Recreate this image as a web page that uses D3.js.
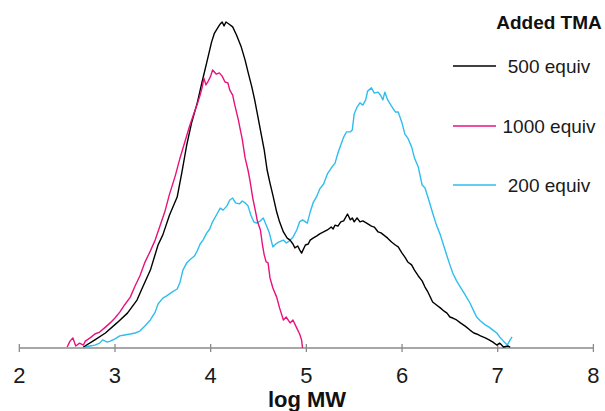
<!DOCTYPE html>
<html><head><meta charset="utf-8">
<script src="https://cdn.jsdelivr.net/npm/d3@7"></script>
<style>html,body{margin:0;padding:0;background:#fff;}svg{display:block;}</style>
</head><body>
<script>
// log MW vs normalized detector response (black peak = 100)
const series500 = [[2.67,0.3],[2.79,2.5],[2.90,4.6],[3.02,7.7],[3.13,10.7],[3.23,14.7],[3.29,18.7],[3.37,23.9],[3.45,31.6],[3.50,34.7],[3.57,40.8],[3.65,46.3],[3.70,54.0],[3.75,62.3],[3.80,69.0],[3.86,75.2],[3.91,81.6],[3.96,87.7],[4.01,93.9],[4.04,96.6],[4.08,98.5],[4.10,99.4],[4.12,100],[4.14,98.8],[4.16,100],[4.19,99.4],[4.23,98.5],[4.27,96.0],[4.32,92.3],[4.36,88.3],[4.39,84.7],[4.43,80.1],[4.46,76.1],[4.49,71.5],[4.53,65.3],[4.56,60.7],[4.59,54.6],[4.62,50.6],[4.65,46.9],[4.69,41.7],[4.72,38.7],[4.76,35.6],[4.80,33.7],[4.83,33.1],[4.86,31.9],[4.88,30.7],[4.91,31.3],[4.93,30.1],[4.95,29.1],[4.99,31.6],[5.02,31.9],[5.04,33.1],[5.07,33.7],[5.11,34.4],[5.14,35.0],[5.18,35.6],[5.22,36.2],[5.26,37.1],[5.28,36.5],[5.30,37.7],[5.33,37.4],[5.36,38.7],[5.39,39.0],[5.43,41.1],[5.46,39.3],[5.48,39.9],[5.50,38.7],[5.53,39.9],[5.56,38.7],[5.59,39.0],[5.63,38.3],[5.68,37.4],[5.71,37.1],[5.75,35.6],[5.78,35.3],[5.82,34.4],[5.85,33.7],[5.89,32.5],[5.93,31.6],[5.96,31.0],[6.00,29.1],[6.03,27.9],[6.06,26.4],[6.10,25.5],[6.13,23.9],[6.17,22.1],[6.21,20.6],[6.24,18.7],[6.27,17.2],[6.32,14.1],[6.36,13.2],[6.40,12.3],[6.44,11.3],[6.47,10.7],[6.50,9.5],[6.53,9.2],[6.57,8.6],[6.61,7.7],[6.66,6.7],[6.71,5.5],[6.75,4.6],[6.78,4.3],[6.82,3.7],[6.87,3.1],[6.91,2.5],[6.95,1.8],[6.99,0.9],[7.02,1.5],[7.06,0.3],[7.11,0.6],[7.13,0.3]];

const series1000 = [[2.50,0.3],[2.53,2.1],[2.56,3.1],[2.59,0.6],[2.63,1.5],[2.67,0.9],[2.69,2.1],[2.74,3.1],[2.79,4.3],[2.84,4.9],[2.90,6.4],[2.95,7.7],[3.00,9.2],[3.05,11.0],[3.10,13.2],[3.16,15.6],[3.21,19.0],[3.26,22.1],[3.31,26.1],[3.37,29.8],[3.42,33.1],[3.47,37.4],[3.52,41.7],[3.57,47.2],[3.63,52.8],[3.68,58.3],[3.73,63.2],[3.78,68.1],[3.83,72.4],[3.86,74.8],[3.89,77.6],[3.91,79.8],[3.93,82.8],[3.95,80.7],[3.97,81.6],[4.00,83.4],[4.02,85.3],[4.06,84.0],[4.09,84.4],[4.12,83.4],[4.15,81.6],[4.18,81.3],[4.20,79.1],[4.23,77.6],[4.25,74.8],[4.29,69.9],[4.31,66.9],[4.33,64.1],[4.36,58.3],[4.39,54.6],[4.41,51.5],[4.44,46.0],[4.47,41.7],[4.49,38.7],[4.52,36.2],[4.54,31.9],[4.56,28.5],[4.58,26.4],[4.60,26.1],[4.62,21.5],[4.65,18.4],[4.69,15.6],[4.72,12.3],[4.76,8.6],[4.79,9.5],[4.83,7.7],[4.86,8.6],[4.90,6.1],[4.93,4.3],[4.95,2.5],[4.96,0]];

const series200 = [[2.69,0.3],[2.74,0.6],[2.79,0.9],[2.84,1.5],[2.87,2.5],[2.92,1.8],[2.95,2.1],[3.00,2.8],[3.05,3.7],[3.10,4.0],[3.16,4.3],[3.21,4.6],[3.26,5.2],[3.31,6.7],[3.37,8.6],[3.42,11.0],[3.45,13.5],[3.50,15.3],[3.54,16.0],[3.60,17.2],[3.65,18.1],[3.68,20.2],[3.71,23.9],[3.75,26.1],[3.78,27.0],[3.83,28.2],[3.86,29.8],[3.89,31.9],[3.92,33.1],[3.96,35.3],[3.99,36.5],[4.02,38.7],[4.06,40.8],[4.10,42.9],[4.13,42.3],[4.17,43.6],[4.20,45.4],[4.23,46.0],[4.26,44.5],[4.30,44.2],[4.33,45.1],[4.36,44.5],[4.39,43.6],[4.42,40.8],[4.45,38.7],[4.48,38.3],[4.52,39.0],[4.55,39.9],[4.58,37.7],[4.61,35.6],[4.65,31.0],[4.68,31.9],[4.71,32.5],[4.76,33.1],[4.79,32.2],[4.82,32.8],[4.86,34.0],[4.90,36.2],[4.93,38.7],[4.96,39.3],[5.01,38.3],[5.04,41.7],[5.07,44.5],[5.11,46.6],[5.14,48.8],[5.18,50.3],[5.22,53.4],[5.26,55.2],[5.30,56.7],[5.33,59.8],[5.36,62.3],[5.39,64.7],[5.42,66.3],[5.46,66.3],[5.48,66.9],[5.50,71.8],[5.53,73.9],[5.56,75.2],[5.59,74.5],[5.62,76.1],[5.64,78.8],[5.68,79.8],[5.71,78.2],[5.75,78.5],[5.78,77.3],[5.80,76.1],[5.82,78.5],[5.85,76.1],[5.89,74.2],[5.93,72.4],[5.96,72.4],[6.00,69.0],[6.03,65.6],[6.06,64.4],[6.10,61.7],[6.13,58.3],[6.17,55.5],[6.21,50.0],[6.24,49.1],[6.27,46.3],[6.32,41.4],[6.36,37.7],[6.40,34.7],[6.44,31.0],[6.47,28.2],[6.50,25.5],[6.53,23.0],[6.57,20.6],[6.61,18.7],[6.66,16.3],[6.71,13.8],[6.75,11.3],[6.78,9.5],[6.82,8.3],[6.87,7.1],[6.91,6.4],[6.95,5.5],[6.99,4.6],[7.02,3.4],[7.06,2.1],[7.10,0.9],[7.13,2.5],[7.15,3.4]];

const xTicks = [2,3,4,5,6,7,8];
const legendTitle = "Added TMA";
const legendLabels = ["500 equiv","1000 equiv","200 equiv"];
const legendColors = ["#000000","#e8127c","#2fbdee"];
const seriesList = [series500, series1000, series200];

const W = 605, H = 411;
const svg = d3.select("body").append("svg").attr("width", W).attr("height", H);

const x = d3.scaleLinear().domain([2, 8]).range([19.3, 593.4]);
const y = d3.scaleLinear().domain([0, 100]).range([348, 22]);

// axis
const axisG = svg.append("g").attr("transform", `translate(0,${y(0)})`);
axisG.append("line").attr("x1", x(2)).attr("x2", x(8)).attr("y1", 0).attr("y2", 0)
  .attr("stroke", "#8a8a8a").attr("stroke-width", 1.3);
axisG.selectAll("line.tick").data(xTicks).enter().append("line").attr("class","tick")
  .attr("x1", d => x(d)).attr("x2", d => x(d)).attr("y1", -4).attr("y2", 4)
  .attr("stroke", "#8a8a8a").attr("stroke-width", 1.3);
axisG.selectAll("text").data(xTicks).enter().append("text")
  .attr("x", d => x(d)).attr("y", 35)
  .attr("text-anchor", "middle")
  .attr("font-family", "Liberation Sans, Arial, sans-serif")
  .attr("font-size", 22).attr("fill", "#1a1a1a")
  .text(d => d);

svg.append("text").attr("x", 307).attr("y", 407)
  .attr("text-anchor", "middle")
  .attr("font-family", "Liberation Sans, Arial, sans-serif")
  .attr("font-weight", "bold").attr("font-size", 22).attr("fill", "#111")
  .text("log MW");

const line = d3.line().x(d => x(d[0])).y(d => y(d[1]));
const drawOrder = [2, 0, 1];
drawOrder.forEach(i => {
  svg.append("path").datum(seriesList[i])
    .attr("d", line).attr("fill", "none")
    .attr("stroke", legendColors[i]).attr("stroke-width", 1.4)
    .attr("stroke-linejoin", "round");
});

// legend
const lg = svg.append("g");
lg.append("text").attr("x", 549).attr("y", 29)
  .attr("text-anchor", "middle")
  .attr("font-family", "Liberation Sans, Arial, sans-serif")
  .attr("font-weight", "bold").attr("font-size", 19).attr("fill", "#111")
  .text(legendTitle);
const legY = [66, 126, 185];
legendLabels.forEach((lab, i) => {
  lg.append("line").attr("x1", 453).attr("x2", 496).attr("y1", legY[i]).attr("y2", legY[i])
    .attr("stroke", legendColors[i]).attr("stroke-width", 1.4);
  lg.append("text").attr("x", 549).attr("y", legY[i] + 7)
    .attr("text-anchor", "middle")
    .attr("font-family", "Liberation Sans, Arial, sans-serif")
    .attr("font-size", 19).attr("fill", "#1a1a1a")
    .text(lab);
});
</script>
</body></html>
